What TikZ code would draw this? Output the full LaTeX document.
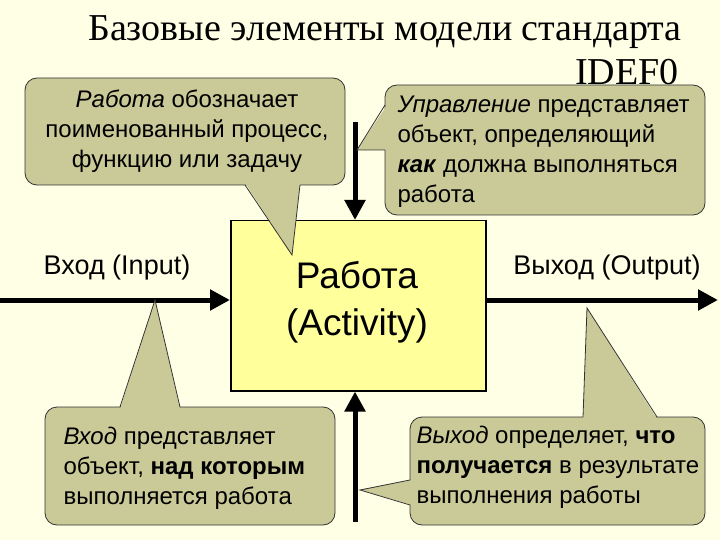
\documentclass[tikz,border=0pt]{standalone}
\usepackage{fontspec}
\setmainfont{Liberation Serif}
\setsansfont{Liberation Sans}
\usetikzlibrary{arrows.meta}
\definecolor{bg}{HTML}{FFFFE6}
\definecolor{call}{HTML}{CACA98}
\definecolor{boxc}{HTML}{FFFF9C}
\tikzset{callout/.style={fill=call,draw=black!80,line width=0.8pt,rounded corners=12pt},
 pfill/.style={fill=call},
 pline/.style={draw=black!80,line width=0.8pt},
 flow/.style={line width=5pt,-{Triangle[length=20pt,width=20pt]}},
 ctext/.style={font=\sffamily\fontsize{24}{30}\selectfont,align=center}}
\begin{document}
\begin{tikzpicture}[x=1pt,y=-1pt]
\fill[bg] (0,0) rectangle (720,540);
\useasboundingbox (0,0) rectangle (720,540);
% box
\node[draw,fill=boxc,line width=1.5pt,minimum width=255pt,minimum height=170pt,anchor=north west,inner sep=0] (act) at (230,220) {};
\node[font=\sffamily\fontsize{37}{47}\selectfont,align=center] (acttxt) at (357,302) {Работа\\(Activity)};
% arrows
\coordinate (inS) at (0,300); \coordinate (outE) at (718,300);
\coordinate (ctlS) at (355,122); \coordinate (mecS) at (355,522);
\draw[flow] (inS) -- (act.west|-inS);
\draw[flow] (act.east|-outE) -- (outE);
\draw[flow] (ctlS) -- (act.north-|ctlS);
\draw[flow] (mecS) -- (act.south-|mecS);
% title
\node[font=\fontsize{38}{42}\selectfont] (t1) at (385,32) {Базовые элементы модели стандарта};
\node[font=\fontsize{38}{42}\selectfont,anchor=east] (t2) at (682,72) {IDEF0};
% callout 1
\draw[callout] (25,78) rectangle (345,185);
\fill[pfill] (245,183) -- (292,255) -- (300,183) -- cycle;
\draw[pline] (245,185) -- (292,255) -- (300,185);
\node[ctext] (c1) at (187,131) {\textit{Работа} обозначает\\поименованный процесс,\\функцию или задачу};
% callout 2
\draw[callout] (385,85) rectangle (705,215);
\fill[pfill] (387,105) -- (357,150) -- (387,150) -- cycle;
\draw[pline] (385,105) -- (357,150) -- (385,150);
\node[ctext,align=left,anchor=west] (c2) at (394,152) {\textit{Управление} представляет\\объект, определяющий\\\textbf{\textit{как}} должна выполняться\\работа};
% callout 3
\draw[callout] (45,407) rectangle (335,525);
\fill[pfill] (120,409) -- (155,300) -- (180,409) -- cycle;
\draw[pline] (120,407) -- (155,300) -- (180,407);
\node[ctext,align=left,anchor=west] (c3) at (60,468) {\textit{Вход} представляет\\объект, \textbf{над которым}\\выполняется работа};
% callout 4
\draw[callout] (410,417) rectangle (705,525);
\fill[pfill] (583,419) -- (587,308) -- (657,419) -- cycle;
\draw[pline] (583,417) -- (587,308) -- (657,417);
\fill[pfill] (412,480) -- (360,490) -- (412,505) -- cycle;
\draw[pline] (410,480) -- (360,490) -- (410,505);
\node[ctext,align=left,anchor=west] (c4) at (413,467) {\textit{Выход} определяет, \textbf{что}\\\textbf{получается} в результате\\выполнения работы};
% labels
\node[ctext,font=\sffamily\fontsize{27}{30}\selectfont] (lin) at (117,268) {Вход (Input)};
\node[ctext,font=\sffamily\fontsize{27}{30}\selectfont] (lout) at (607,268) {Выход (Output)};
\end{tikzpicture}
\end{document}
